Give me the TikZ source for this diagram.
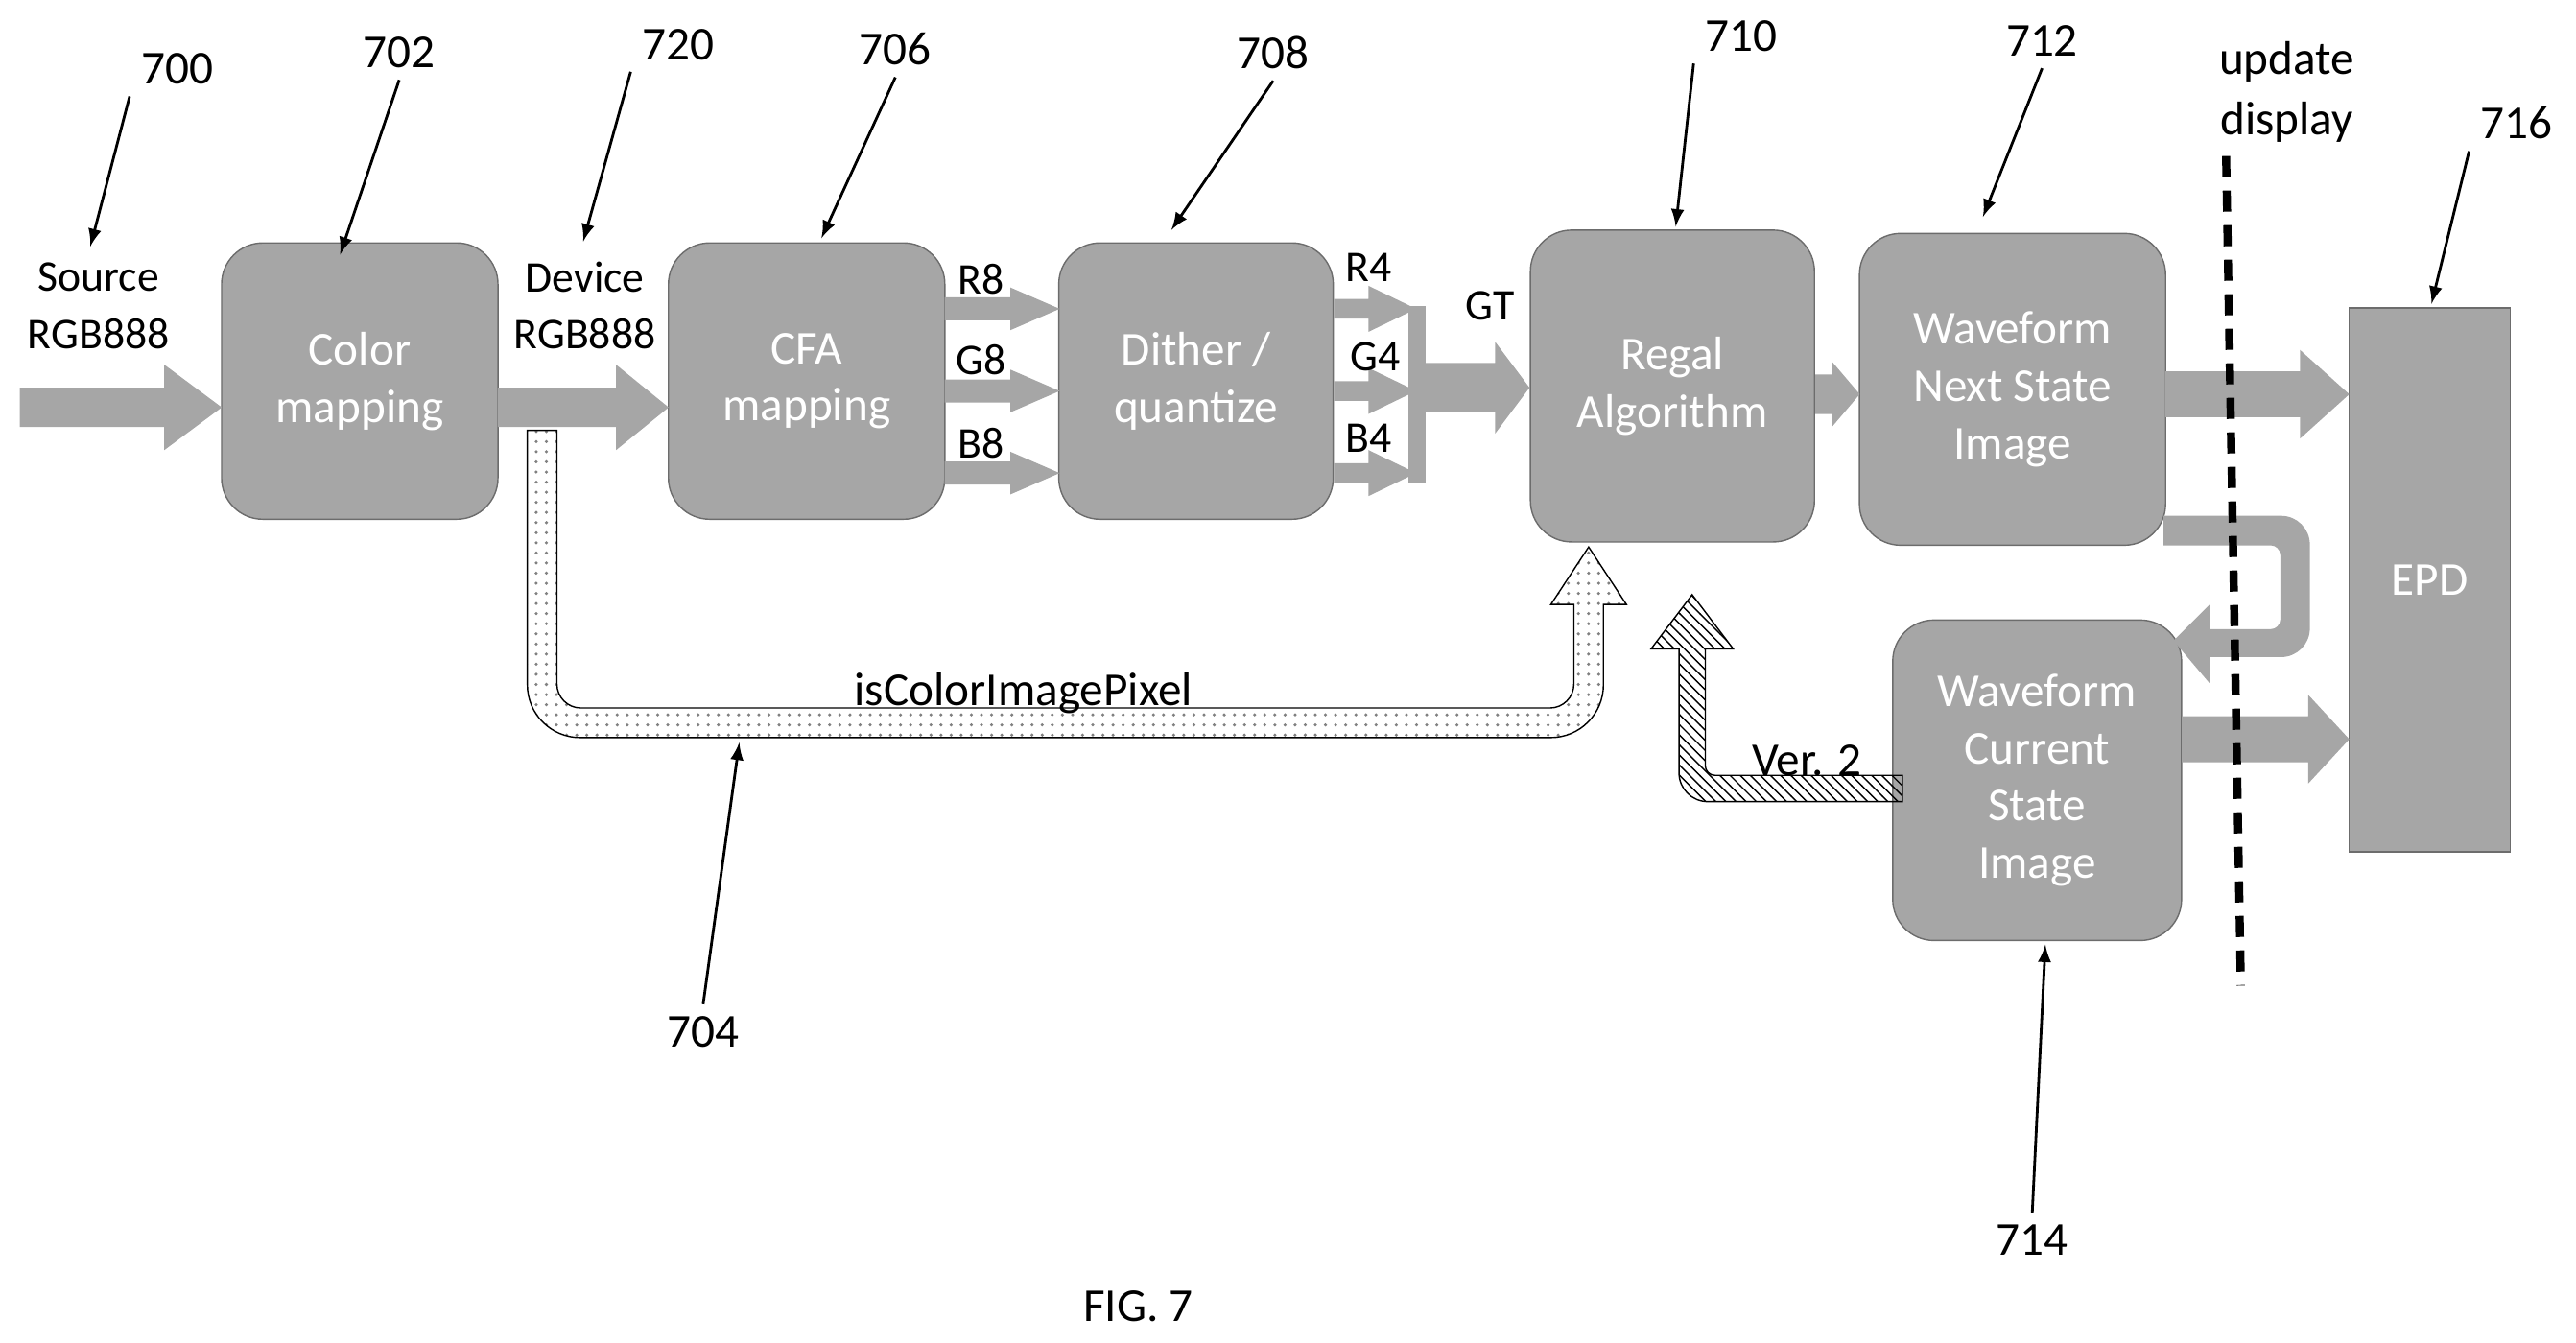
\documentclass[tikz,border=0pt]{standalone}
\usepackage{fontspec}
\setmainfont{Carlito}
\usepackage{tikz}
\usetikzlibrary{patterns}

% gray block arrow: x from, x head base, x tip, y, shaft half, head half
\newcommand{\blkarrow}[6]{%
  \fill[flow] (#1,#4-#5) -- (#2,#4-#5) -- (#2,#4-#6) -- (#3,#4) -- (#2,#4+#6) -- (#2,#4+#5) -- (#1,#4+#5) -- cycle;}

\begin{document}
\begin{tikzpicture}[x=0.017124cm, y=-0.017124cm,
    blk/.style={fill=gray!70, draw=gray!85!black, rounded corners=0.43cm, text=white,
      align=center, font=\fontsize{14}{17}\selectfont},
    flow/.style={fill=gray!70},
    lbl/.style={align=center, font=\fontsize{13}{17}\selectfont},
    num/.style={font=\fontsize{14}{17}\selectfont},
    ptr/.style={-latex, thick}]
    \useasboundingbox (0,0) rectangle (1568,817);

    % Blocks
    \node[blk, minimum width=2.88cm, minimum height=2.88cm] (cmap) at (219,232) {Color\\mapping};
    \node[blk, minimum width=2.88cm, minimum height=2.88cm] (cfa) at (491,232) {CFA\\mapping};
    \node[blk, minimum width=2.86cm, minimum height=2.88cm] (dither) at (728,232) {Dither /\\quantize};
    \node[blk, minimum width=2.96cm, minimum height=3.25cm] (regal) at (1018,235) {Regal\\Algorithm};
    \node[blk, minimum width=3.19cm, minimum height=3.25cm] (next) at (1225,237) {Waveform\\Next State\\Image};
    \node[blk, minimum width=3.01cm, minimum height=3.34cm] (cur) at (1240,475) {Waveform\\Current\\State\\Image};
    \node[blk, rounded corners=0pt, minimum width=1.68cm, minimum height=5.67cm] (epd) at (1479,353) {EPD};

    % Block arrows
    \blkarrow{12}{100}{135}{248}{12}{26}
    \blkarrow{303}{375}{407}{248}{12}{26}
    \foreach \y in {188,238,288} {
        \blkarrow{575}{615}{645}{\y}{7}{13}
        \blkarrow{812}{833}{862}{\y}{6}{14}
    }
    \fill[flow] (857,186) rectangle (868,294);
    \blkarrow{866}{910}{931}{236}{15}{28}
    \blkarrow{1105}{1115}{1132}{240}{12}{20}
    \blkarrow{1318}{1400}{1430}{240}{14}{27}
    \blkarrow{1328}{1405}{1430}{450}{14}{27}
    \fill[flow] (1317,314) [rounded corners=0.3cm] -- (1406,314) -- (1406,400) [sharp corners] -- (1345,400)
        -- (1345,416) -- (1323,390) -- (1345,368) -- (1345,383) [rounded corners=0.1cm] -- (1388,383)
        -- (1388,332) [sharp corners] -- (1317,332) -- cycle;

    % isColorImagePixel arrow
    \draw[pattern=dots, pattern color=gray] (339,262) -- (321,262) [rounded corners=0.55cm] -- (321,449)
        -- (976,449) [sharp corners] -- (976,368) -- (990,368) -- (967,333) -- (944,368) -- (958,368)
        [rounded corners=0.25cm] -- (958,431) -- (339,431) [sharp corners] -- cycle;
    % Ver. 2 arrow
    \draw[pattern=north west lines] (1158,472) [rounded corners=0.1cm] -- (1038,472) [sharp corners]
        -- (1038,395) -- (1055,395) -- (1030,362) -- (1005,395) -- (1022,395) [rounded corners=0.3cm]
        -- (1022,488) [sharp corners] -- (1158,488) -- cycle;

    % Update display line
    \draw[line width=2.4pt, dash pattern=on 0.22cm off 0.14cm] (1355,95) -- (1364,600);

    % Labels
    \node[lbl] at (60,186) {Source\\RGB888};
    \node[lbl] at (356,186) {Device\\RGB888};
    \node[lbl] at (597,170) {R8};
    \node[lbl] at (597,219) {G8};
    \node[lbl] at (597,270) {B8};
    \node[lbl] at (833,163) {R4};
    \node[lbl] at (837,217) {G4};
    \node[lbl] at (833,267) {B4};
    \node[lbl] at (907,186) {GT};
    \node[lbl, font=\fontsize{14}{17}\selectfont] at (623,422) {isColorImagePixel};
    \node[lbl, font=\fontsize{14}{17}\selectfont] at (1100,463) {Ver. 2};
    \node[lbl, font=\fontsize{14}{18}\selectfont] at (1392,56) {update\\display};
    \node[num] at (693,795) {FIG. 7};

    % Reference numerals
    \node[num] (n700) at (108,42) {700};
    \node[num] (n702) at (243,32) {702};
    \node[num] (n720) at (413,27) {720};
    \node[num] (n706) at (545,30) {706};
    \node[num] (n708) at (775,32) {708};
    \node[num] (n710) at (1060,22) {710};
    \node[num] (n712) at (1243,25) {712};
    \node[num] (n716) at (1532,75) {716};
    \node[num] (n704) at (428,628) {704};
    \node[num] (n714) at (1237,755) {714};
    \draw[ptr] (n700.south west) -- (55,150);
    \draw[ptr] (n702.south) -- (207,155);
    \draw[ptr] (n720.south west) -- (355,147);
    \draw[ptr] (n706.south) -- (500,145);
    \draw[ptr] (n708.south) -- (713,140);
    \draw[ptr] (n710.south west) -- (1020,138);
    \draw[ptr] (n712.south) -- (1207,132);
    \draw[ptr] (n716.south west) -- (1480,185);
    \draw[ptr] (n704.north) -- (450,452);
    \draw[ptr] (n714.north) -- (1245,575);
\end{tikzpicture}
\end{document}
